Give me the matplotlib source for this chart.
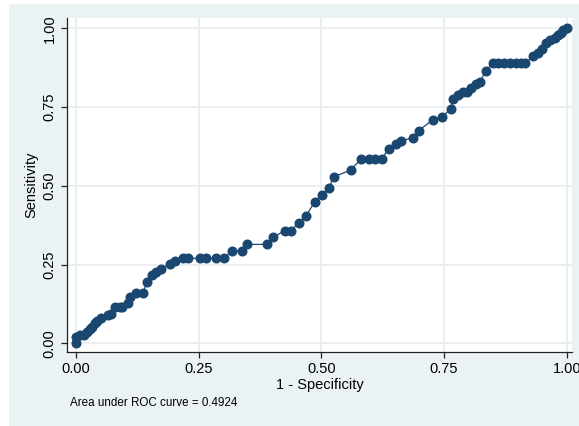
import numpy as np
import matplotlib
matplotlib.use("Agg")
import matplotlib.pyplot as plt
from matplotlib.patches import Rectangle

plt.rcParams['font.family'] = ['Liberation Sans', 'DejaVu Sans']

# ROC points (1 - specificity, sensitivity)
fpr = [0.000, 0.001, 0.008, 0.016, 0.023, 0.028, 0.033, 0.038, 0.043, 0.052,
       0.066, 0.071, 0.080, 0.089, 0.094, 0.107, 0.110, 0.122, 0.136, 0.145,
       0.154, 0.164, 0.173, 0.192, 0.201, 0.219, 0.229, 0.252, 0.264, 0.285,
       0.301, 0.318, 0.339, 0.349, 0.389, 0.402, 0.425, 0.438, 0.455, 0.468,
       0.487, 0.502, 0.516, 0.525, 0.560, 0.580, 0.597, 0.610, 0.623, 0.637,
       0.652, 0.662, 0.686, 0.698, 0.727, 0.745, 0.764, 0.768, 0.778, 0.788,
       0.796, 0.804, 0.815, 0.823, 0.835, 0.849, 0.861, 0.873, 0.884, 0.897,
       0.906, 0.915, 0.932, 0.941, 0.949, 0.958, 0.965, 0.976, 0.983, 0.988,
       0.993, 1.000]
tpr = [0.000, 0.021, 0.025, 0.025, 0.036, 0.044, 0.053, 0.063, 0.071, 0.079,
       0.090, 0.092, 0.114, 0.114, 0.114, 0.127, 0.148, 0.160, 0.160, 0.195,
       0.216, 0.227, 0.237, 0.251, 0.262, 0.270, 0.270, 0.270, 0.270, 0.270,
       0.270, 0.293, 0.293, 0.314, 0.314, 0.336, 0.358, 0.358, 0.383, 0.403,
       0.450, 0.472, 0.494, 0.528, 0.550, 0.584, 0.584, 0.584, 0.584, 0.618,
       0.632, 0.642, 0.653, 0.675, 0.709, 0.719, 0.743, 0.776, 0.788, 0.799,
       0.799, 0.810, 0.822, 0.830, 0.865, 0.889, 0.889, 0.889, 0.889, 0.889,
       0.889, 0.889, 0.912, 0.923, 0.933, 0.954, 0.963, 0.968, 0.979, 0.986,
       0.994, 1.000]
ticks = [0.0, 0.25, 0.5, 0.75, 1.0]
tick_labels = ["0.00", "0.25", "0.50", "0.75", "1.00"]
auc_text = "Area under ROC curve = 0.4924"

navy = "#1a476f"
region = "#eaf2f3"

fig = plt.figure(figsize=(5.79, 4.26), dpi=100, facecolor="white")
# stata style graph region (slightly cropped at top/left)
fig.patches.append(Rectangle((9 / 579, 0), 1 - 9 / 579, 422 / 426,
                             transform=fig.transFigure, facecolor=region,
                             edgecolor="none", zorder=-5))

ax = fig.add_axes([67 / 579, 1 - 352 / 426, (572 - 67) / 579, (352 - 18) / 426])
ax.set_facecolor("white")
ax.plot(fpr, tpr, color=navy, lw=0.9, marker="o", ms=6.2, mec=navy, mfc=navy, zorder=3)

ax.set_xlim(-0.0183, 1.0108)
ax.set_ylim(-0.0276, 1.0327)
ax.set_xticks(ticks)
ax.set_xticklabels(tick_labels, fontsize=10.5)
ax.set_yticks(ticks)
ax.set_yticklabels(tick_labels, fontsize=10.5, rotation=90, va="center")
ax.grid(True, color="#e6eef0", lw=1.2)
ax.set_axisbelow(True)

for s in ["top", "right"]:
    ax.spines[s].set_visible(False)
for s in ["left", "bottom"]:
    ax.spines[s].set_color("#222222")
    ax.spines[s].set_linewidth(0.9)
ax.tick_params(direction="out", length=4.5, width=0.9, color="#222222", pad=3)

ax.set_xlabel("1 - Specificity", fontsize=10.5, labelpad=1)
ax.set_ylabel("Sensitivity", fontsize=10.5, labelpad=3)
fig.text(70 / 579, 1 - 403 / 426, auc_text, fontsize=8.4, va="center", ha="left")

fig.savefig("out.png", dpi=100, facecolor=fig.get_facecolor())
